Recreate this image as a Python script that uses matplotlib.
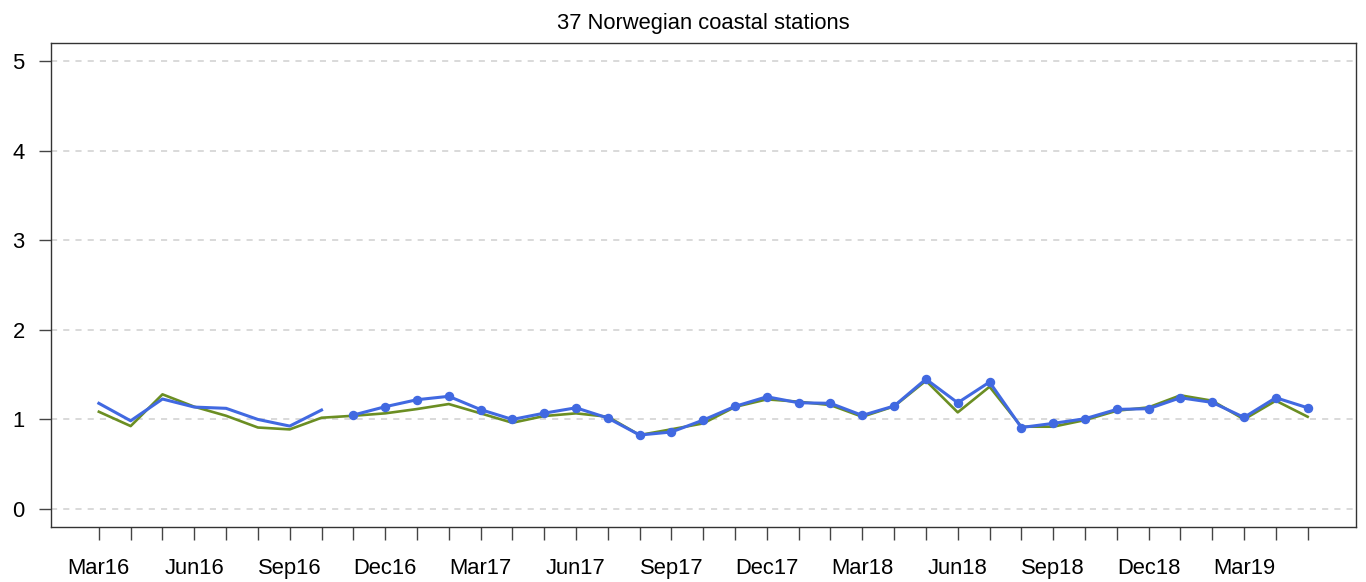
import matplotlib
matplotlib.use("Agg")
import matplotlib.pyplot as plt
import numpy as np

months = ["Mar16","Apr16","May16","Jun16","Jul16","Aug16","Sep16","Oct16","Nov16","Dec16",
          "Jan17","Feb17","Mar17","Apr17","May17","Jun17","Jul17","Aug17","Sep17","Oct17",
          "Nov17","Dec17","Jan18","Feb18","Mar18","Apr18","May18","Jun18","Jul18","Aug18",
          "Sep18","Oct18","Nov18","Dec18","Jan19","Feb19","Mar19","Apr19","May19"]

green = [1.086, 0.926, 1.28, 1.142, 1.041, 0.91, 0.889, 1.019, 1.041, 1.068,
         1.116, 1.172, 1.068, 0.963, 1.038, 1.068, 1.03, 0.826, 0.89, 0.956,
         1.14, 1.224, 1.198, 1.16, 1.03, 1.146, 1.432, 1.079, 1.365, 0.919,
         0.919, 0.993, 1.097, 1.135, 1.269, 1.209, 1.001, 1.209, 1.03]

blue_early = [1.18, 0.985, 1.228, 1.138, 1.124, 1.0, 0.926, 1.105]          # Mar16-Oct16
blue_late = [1.049, 1.142, 1.22, 1.258, 1.11, 1.0, 1.07, 1.13, 1.016, 0.826,
             0.86, 0.993, 1.146, 1.253, 1.186, 1.18, 1.045, 1.15, 1.45, 1.186,
             1.417, 0.91, 0.956, 1.008, 1.112, 1.12, 1.242, 1.19, 1.023, 1.242,
             1.13]                                                          # Nov16-May19

title = "37 Norwegian coastal stations"
yticks = [0, 1, 2, 3, 4, 5]

plt.rcParams['font.family'] = ['Liberation Sans', 'DejaVu Sans']
fs = 15.8

fig = plt.figure(figsize=(13.66, 5.82), dpi=100)
ax = fig.add_axes([50.5/1366, 55/582, (1356-50.5)/1366, (527-43)/582])

x = np.arange(len(months))
n_early = len(blue_early)
x_early = x[:n_early]
x_late = x[n_early:n_early + len(blue_late)]

for yv in yticks:
    ax.axhline(yv, color='#d0d0d0', lw=1.1, ls=(0, (4, 4)), zorder=1)

ax.plot(x, green, color='#6B8E23', lw=1.9, zorder=2)
ax.plot(x_early, blue_early, color='#4169E1', lw=2.2, zorder=3)
ax.plot(x_late, blue_late, color='#4169E1', lw=2.2, marker='o', ms=5.8, zorder=3)

ax.set_xlim(-1.52, len(months) - 1 + 1.52)
ax.set_ylim(-0.2, 5.2)

ax.set_yticks(yticks)
ax.set_yticklabels([str(v) for v in yticks], fontsize=fs)
ax.set_xticks(x)
ax.set_xticklabels([m if i % 3 == 0 else "" for i, m in enumerate(months)], fontsize=fs)

ax.tick_params(axis='y', length=8.6, width=1.0, color='#444444', pad=10)
ax.tick_params(axis='x', length=9.4, width=1.0, color='#444444', pad=13)

for s in ax.spines.values():
    s.set_color('#333333')
    s.set_linewidth(1.0)

ax.set_title(title, fontsize=fs, pad=10)

fig.savefig("out.png", dpi=100)
